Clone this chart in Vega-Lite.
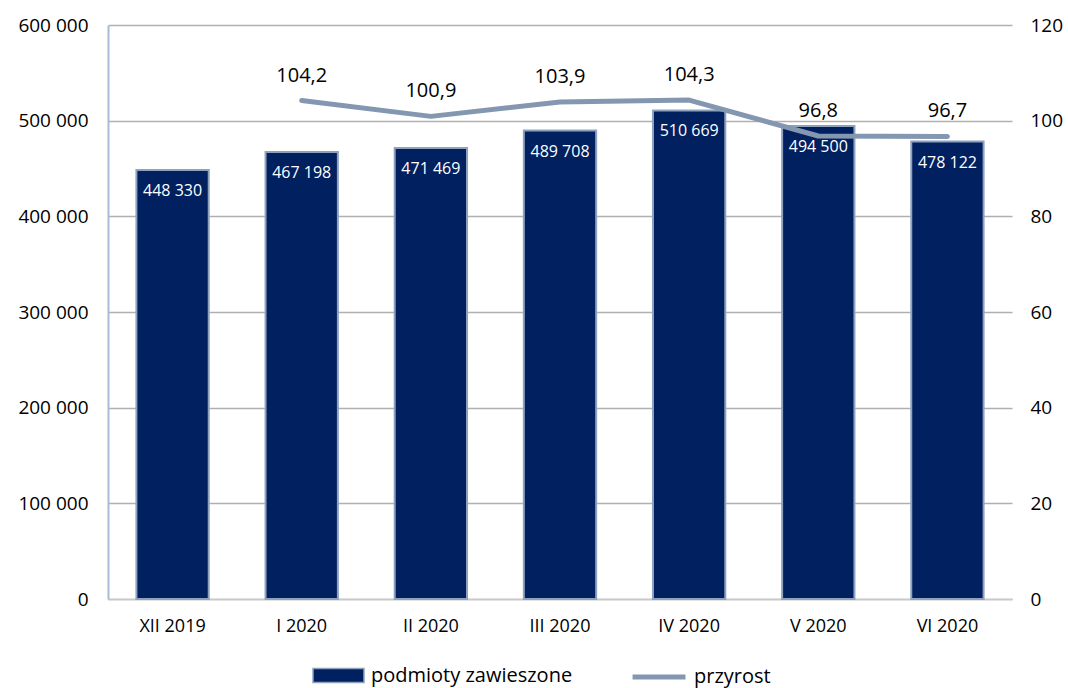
{
  "$schema": "https://vega.github.io/schema/vega-lite/v6.json",
  "autosize": {"type": "none"},
  "width": 904,
  "height": 574,
  "padding": {"left": 108, "top": 25, "right": 56, "bottom": 89},
  "config": {
    "font": "Open Sans",
    "view": {"stroke": null},
    "locale": {"number": {"decimal": ",", "thousands": " ", "grouping": [3], "currency": ["", " zł"]}},
    "axis": {"labelFont": "Open Sans", "labelColor": "#000000", "ticks": false, "labelOverlap": false},
    "legend": {"labelFontSize": 20, "labelColor": "#000000", "labelFont": "Open Sans", "labelLimit": 400, "labelOffset": 6}
  },
  "data": {
    "values": [
      {"miesiac": "XII 2019", "podmioty": 448330, "przyrost": null},
      {"miesiac": "I 2020", "podmioty": 467198, "przyrost": 104.2},
      {"miesiac": "II 2020", "podmioty": 471469, "przyrost": 100.9},
      {"miesiac": "III 2020", "podmioty": 489708, "przyrost": 103.9},
      {"miesiac": "IV 2020", "podmioty": 510669, "przyrost": 104.3},
      {"miesiac": "V 2020", "podmioty": 494500, "przyrost": 96.8},
      {"miesiac": "VI 2020", "podmioty": 478122, "przyrost": 96.7}
    ]
  },
  "encoding": {
    "x": {
      "field": "miesiac",
      "type": "nominal",
      "sort": null,
      "scale": {"paddingInner": 0.44, "paddingOuter": 0.22},
      "axis": {"title": null, "labelAngle": 0, "labelFontSize": 18, "labelPadding": 18, "domainColor": "#c8c8c8", "domainWidth": 1.5, "grid": false}
    }
  },
  "layer": [
    {
      "layer": [
        {
          "mark": {"type": "bar", "stroke": "#8ea2bf", "strokeWidth": 2},
          "encoding": {
            "y": {
              "field": "podmioty",
              "type": "quantitative",
              "scale": {"domain": [0, 600000]},
              "axis": {"title": null, "values": [0, 100000, 200000, 300000, 400000, 500000, 600000], "format": ",d", "labelFontSize": 19, "labelPadding": 20, "domainColor": "#a9bbd4", "domainWidth": 2, "gridColor": "#b0b0b0", "gridWidth": 1.5}
            },
            "fill": {
              "datum": "podmioty zawieszone",
              "type": "nominal",
              "scale": {"range": ["#002060"]},
              "legend": {
                "title": null,
                "orient": "none",
                "legendX": 204,
                "legendY": 624,
                "symbolType": "M-1,-0.27H1V0.27H-1Z",
                "symbolSize": 2600,
                "symbolStrokeColor": "#8ea2bf",
                "symbolStrokeWidth": 1.5,
                "symbolOpacity": 1
              }
            }
          }
        },
        {
          "mark": {"type": "text", "baseline": "top", "dy": 13, "color": "#ffffff", "fontSize": 16, "font": "Open Sans"},
          "encoding": {
            "y": {"field": "podmioty", "type": "quantitative"},
            "text": {"field": "podmioty", "type": "quantitative", "format": ",d"}
          }
        }
      ]
    },
    {
      "transform": [{"filter": "isValid(datum.przyrost)"}],
      "layer": [
        {
          "mark": {"type": "line", "strokeWidth": 5, "strokeCap": "round", "strokeJoin": "round"},
          "encoding": {
            "y": {
              "field": "przyrost",
              "type": "quantitative",
              "scale": {"domain": [0, 120]},
              "axis": {"title": null, "orient": "right", "values": [0, 20, 40, 60, 80, 100, 120], "labelFontSize": 19, "labelPadding": 18, "domain": false, "grid": false}
            },
            "stroke": {
              "datum": "przyrost",
              "type": "nominal",
              "scale": {"range": ["#8497b0"]},
              "legend": {
                "title": null,
                "orient": "none",
                "legendX": 522,
                "legendY": 623,
                "symbolType": "stroke",
                "symbolSize": 2800,
                "symbolStrokeWidth": 5,
                "symbolOpacity": 1
              }
            }
          }
        },
        {
          "mark": {"type": "text", "baseline": "middle", "dy": -25, "color": "#000000", "fontSize": 20, "font": "Open Sans"},
          "encoding": {
            "y": {"field": "przyrost", "type": "quantitative"},
            "text": {"field": "przyrost", "type": "quantitative", "format": ".1f"}
          }
        }
      ]
    }
  ],
  "resolve": {"scale": {"y": "independent"}}
}
